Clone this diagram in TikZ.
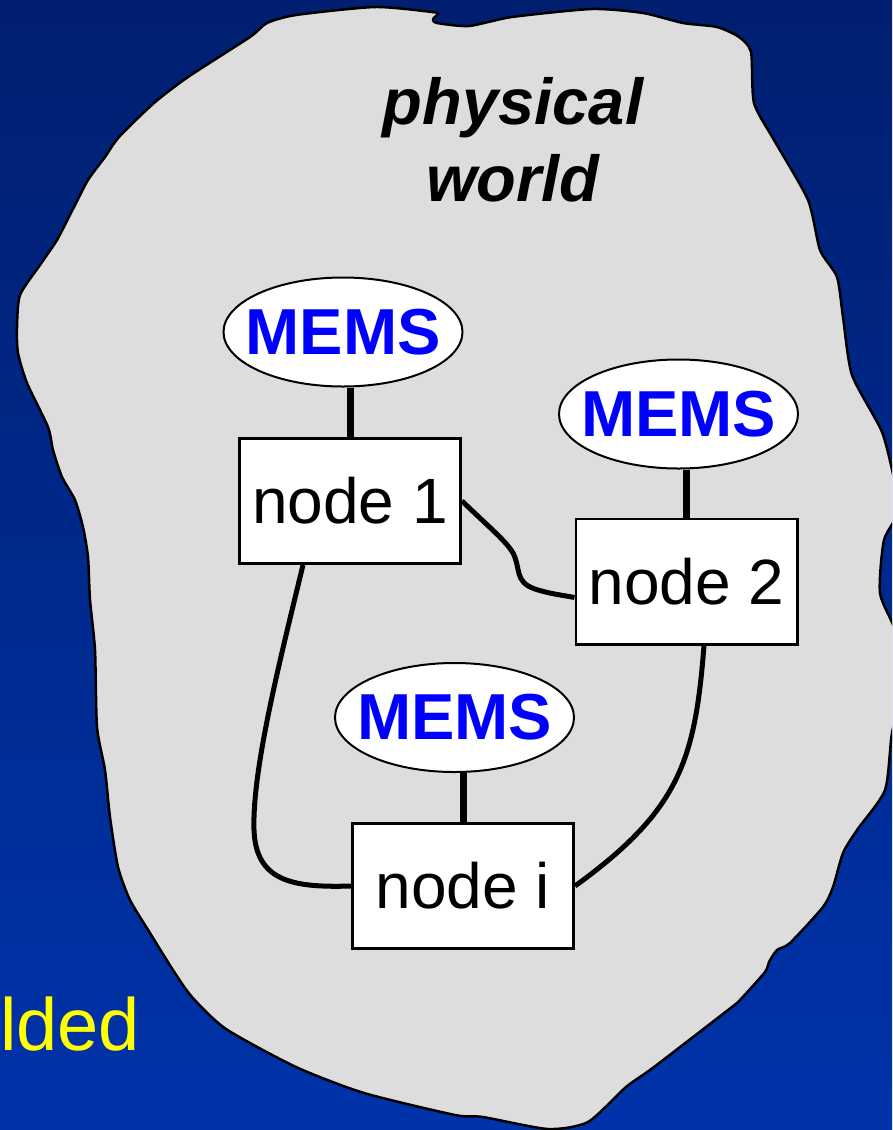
\documentclass[tikz,border=0pt]{standalone}
\usepackage{fontspec}
\setmainfont{Liberation Sans}
\usetikzlibrary{shapes.geometric}
\definecolor{bgtop}{RGB}{0,31,112}
\definecolor{bgbot}{RGB}{0,51,170}
\definecolor{worldgrey}{RGB}{221,221,221}
\definecolor{memsblue}{RGB}{0,0,255}
\definecolor{embyellow}{RGB}{255,255,0}
\begin{document}
\begin{tikzpicture}[x=1pt,y=-1pt,
  box/.style={draw=black, line width=2.7pt, fill=white, minimum width=221.3pt, minimum height=125.3pt, inner sep=0pt, font=\fontsize{64}{77}\selectfont},
  mems/.style={ellipse, draw=black, line width=2pt, fill=white, minimum width=239pt, minimum height=109pt, inner sep=0pt, text=memsblue, font=\fontsize{65}{78}\selectfont\bfseries},
  stem/.style={line width=7pt},
  link/.style={line width=5pt}]
\useasboundingbox (0,0) rectangle (892,1130);
\shade[top color=bgtop, bottom color=bgbot] (0,0) rectangle (892,1130);
\begin{scope}
\clip (0,0) rectangle (892,1130);
\draw[fill=worldgrey, line width=2.5pt, line join=round] plot[smooth cycle, tension=0.4] coordinates {
(267,23) (296,15) (375,7) (432,12) (438,14) (433,19) (437,23) (469,26) (512,17) (592,9) (643,13) (683,23) (717,27) (739,37) (751,52) (754,103) (774,140) (808,200) (820,250) (837,277) (843,317) (852,375) (882,432) (895,483) (900,510) (884,540) (880,593) (895,630) (905,680) (892,733) (885,790) (857,830) (843,853) (833,887) (823,907) (790,943) (777,950) (769,962) (765,972) (740,1000) (728,1010) (654,1067) (626,1087) (588,1122) (548,1129) (483,1117) (455,1115) (364,1093) (296,1067) (226,1029) (192,997) (173,970) (150,933) (130,900) (118,867) (110,817) (105,770) (97,727) (95,650) (90,600) (88,557) (83,527) (75,500) (62,477) (53,450) (48,427) (27,383) (18,353) (17,327) (20,295) (40,265) (57,240) (74,207) (88,180) (105,157) (119,137) (154,103) (188,77) (250,37)};
\end{scope}

\node[font=\fontsize{65}{77}\selectfont\bfseries\itshape, align=center, inner sep=0pt] (pw) at (513,140) {physical\\world};

\node[anchor=base west, inner sep=0pt, text=embyellow, font=\fontsize{74}{80}\selectfont] (emb) at (0,1050) {lded};

\node[box] (n1) at (350,501) {node 1};
\node[box] (n2) at (686.5,581.5) {node 2};
\node[box] (ni) at (463,886) {node i};

\node[mems] (e1) at (343,332) {\makebox[0pt]{MEMS}};
\node[mems] (e2) at (678.5,414) {\makebox[0pt]{MEMS}};
\node[mems] (e3) at (454.5,717.5) {\makebox[0pt]{MEMS}};

\draw[stem] (n1.north) -- (n1.north |- e1.south);
\draw[stem] (n2.north) -- (n2.north |- e2.south);
\draw[stem] (ni.north) -- (ni.north |- e3.south);

\draw[link] (n1.east) .. controls (490,528) and (506,541) .. (513,553) .. controls (521,568) and (514,582) .. (535,589) .. controls (550,594) and (562,595) .. ([yshift=-16pt]n2.west);
\draw[link] ([xshift=-47pt]n1.south) .. controls (280,660) and (252,770) .. (254,830) .. controls (256,880) and (290,888) .. (ni.west);
\draw[link] ([xshift=17.5pt]n2.south) .. controls (695,760) and (680,810) .. (ni.east);
\end{tikzpicture}
\end{document}
